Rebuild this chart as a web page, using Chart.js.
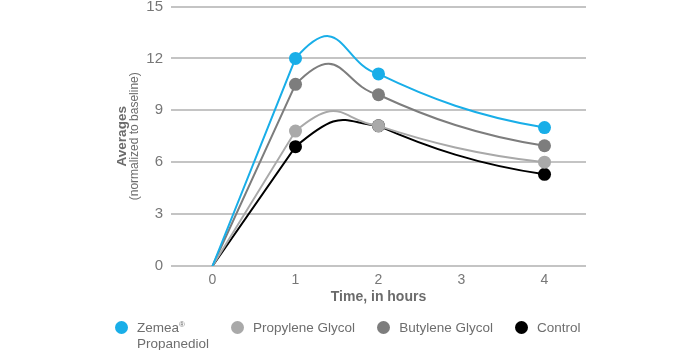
<!DOCTYPE html>
<html>
<head>
<meta charset="utf-8">
<script src="https://cdn.jsdelivr.net/npm/chart.js@4.4.0/dist/chart.umd.min.js"></script>
<style>
  html, body { margin: 0; padding: 0; background: #fff; }
  .wrap { position: relative; width: 700px; height: 350px; }
  #averagesChart { display: block; }
  #legend {
    position: absolute; left: 115px; top: 321px;
    display: flex; align-items: flex-start; gap: 22px;
    font-family: "Liberation Sans", Arial, sans-serif; font-size: 13.5px;
    color: #6e6e6e; line-height: 15.5px;
  }
  #legend .item { display: flex; align-items: flex-start; }
  #legend .dot { width: 13px; height: 13px; border-radius: 50%; margin-right: 9px; flex: none; }
  #legend .txt { margin-top: -1px; }
  #legend sup { font-size: 8px; line-height: 0; vertical-align: 5px; }
</style>
</head>
<body>
<div class="wrap">
  <canvas id="averagesChart" width="700" height="350"></canvas>
  <div id="legend"></div>
</div>
<script>
// values
const hours = [0, 1, 2, 4];
const xTicks = [0, 1, 2, 3, 4];
const yTicks = [0, 3, 6, 9, 12, 15];
const seriesNames = [['Zemea®', 'Propanediol'], 'Propylene Glycol', 'Butylene Glycol', 'Control'];
const zemeaVals = [0, 12.0, 11.1, 8.0];
const propyleneVals = [0, 7.8, 8.1, 6.0];
const butyleneVals = [0, 10.5, 9.9, 6.95];
const controlVals = [0, 6.9, 8.1, 5.3];
const seriesColors = ['#19aee8', '#a9a9a9', '#7d7d7d', '#000000'];

const allVals = [zemeaVals, propyleneVals, butyleneVals, controlVals];

const datasets = allVals.map((vals, i) => ({
    label: seriesNames[i],
    data: vals.map((v, k) => ({x: hours[k], y: v})),
    borderColor: seriesColors[i],
    backgroundColor: seriesColors[i],
    borderWidth: 2,
    tension: 0.4,
    pointRadius: vals.map((v, k) => k === 0 ? 0 : 6.5),
    pointHoverRadius: 6.5,
    pointBorderWidth: 0,
    order: i
}));

// reshape the spline: straight rise from 0, rounded overshoot after 1 h, gentle sag into 4 h
const curveShapePlugin = {
    id: 'curveShape',
    beforeDatasetDraw(chart, args) {
        const meta = args.meta;
        meta.dataset.updateControlPoints(chart.chartArea, 'x');
        const [p0, p1, p2, p3] = meta.data;
        p0.cp2x = p0.x; p0.cp2y = p0.y;
        p1.cp1x = p1.x; p1.cp1y = p1.y;

        p1.cp2x = p1.x + 0.28 * (p2.x - p0.x);
        p1.cp2y = p1.y + 0.28 * (p2.y - p0.y);
        p2.cp1x = p2.x - 0.15 * (p3.x - p1.x);
        p2.cp1y = p2.y - 0.15 * (p3.y - p1.y);

        const dx = p3.x - p2.x, dy = p3.y - p2.y;
        p2.cp2x = p2.x + 0.3 * dx; p2.cp2y = p2.y + 0.45 * dy;
        p3.cp1x = p3.x - 0.4 * dx; p3.cp1y = p3.y - 0.2 * dy;
    }
};

// y axis title: bold word plus a smaller second line
const yTitlePlugin = {
    id: 'yTitle',
    afterDraw(chart) {
        const ctx = chart.ctx;
        const area = chart.chartArea;
        const cy = (area.top + area.bottom) / 2;
        ctx.save();
        ctx.fillStyle = '#6b6b6b';
        ctx.textAlign = 'center';
        ctx.textBaseline = 'middle';
        ctx.translate(122, cy);
        ctx.rotate(-Math.PI / 2);
        ctx.font = 'bold 13.5px "Liberation Sans", Arial, sans-serif';
        ctx.fillText('Averages', 0, 0);
        ctx.font = '12px "Liberation Sans", Arial, sans-serif';
        ctx.fillText('(normalized to baseline)', 0, 13);
        ctx.restore();
    }
};

// html legend built from the datasets
const htmlLegendPlugin = {
    id: 'htmlLegend',
    afterUpdate(chart) {
        const box = document.getElementById('legend');
        box.innerHTML = '';
        chart.data.datasets.forEach(ds => {
            const item = document.createElement('div');
            item.className = 'item';
            const dot = document.createElement('span');
            dot.className = 'dot';
            dot.style.background = ds.backgroundColor;
            const txt = document.createElement('span');
            txt.className = 'txt';
            const lines = Array.isArray(ds.label) ? ds.label : [ds.label];
            txt.innerHTML = lines.map(l => l.replace('®', '<sup>®</sup>')).join('<br>');
            item.appendChild(dot);
            item.appendChild(txt);
            box.appendChild(item);
        });
    }
};

Chart.defaults.font.family = '"Liberation Sans", Arial, sans-serif';

new Chart(document.getElementById('averagesChart'), {
    type: 'line',
    data: {datasets: datasets},
    plugins: [curveShapePlugin, yTitlePlugin, htmlLegendPlugin],
    options: {
        responsive: false,
        animation: false,
        layout: {padding: {left: 0, right: 114, top: 6, bottom: 44}},
        scales: {
            x: {
                type: 'linear',
                min: -0.5,
                max: 4.5,
                afterBuildTicks: scale => {
                    scale.ticks = xTicks.map(v => ({value: v}));
                },
                afterFit: scale => {
                    scale.height = 40;
                    scale.paddingLeft = 0;
                    scale.paddingRight = 0;
                },
                grid: {display: false, drawTicks: false},
                border: {display: false},
                ticks: {color: '#777', font: {size: 14}, padding: 6},
                title: {
                    display: true,
                    text: 'Time, in hours',
                    color: '#6b6b6b',
                    font: {size: 14, weight: 'bold'},
                    padding: {top: 0, bottom: 0}
                }
            },
            y: {
                min: 0,
                max: 15,
                afterBuildTicks: scale => {
                    scale.ticks = yTicks.map(v => ({value: v}));
                },
                afterFit: scale => {
                    scale.width = 171;
                    scale.paddingTop = 0;
                    scale.paddingBottom = 0;
                },
                grid: {color: '#c4c4c4', lineWidth: 2, drawTicks: false},
                border: {display: false},
                ticks: {color: '#777', font: {size: 15}, padding: 8}
            }
        },
        plugins: {
            legend: {display: false},
            tooltip: {enabled: false}
        }
    }
});
</script>
</body>
</html>
